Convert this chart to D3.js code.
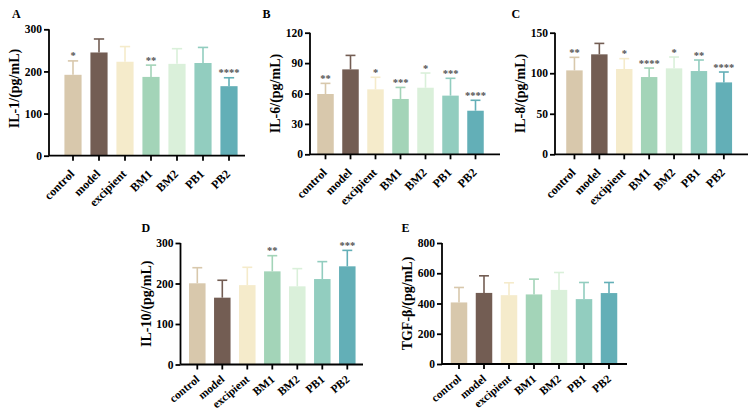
<!DOCTYPE html>
<html><head><meta charset="utf-8">
<script src="https://cdn.jsdelivr.net/npm/d3@7"></script>
<style>body{margin:0;background:#fff}svg{display:block}</style>
</head><body><svg id="c" width="750" height="419"></svg>
<script>
const categories = ["control","model","excipient","BM1","BM2","PB1","PB2"];
const barColors = ["#d8c8ac","#735d53","#f5ebcb","#a3d4b8","#daf0da","#92cdbf","#63afb7"];

const il1Mean = [192,245,223,187,218,220,165];
const il1Sd   = [33,32,36,28,36,37,20];
const il1Stars = ["*","","","**","","","****"];
const il1Ticks = [0,100,200,300];

const il6Mean = [59.5,83.8,64.1,54.6,65.7,57.9,43.0];
const il6Sd   = [10.5,13.8,11.9,11.4,14.5,17.1,10.3];
const il6Stars = ["**","","*","***","*","***","****"];
const il6Ticks = [0,30,60,90,120];

const il8Mean = [103.5,123.3,105.2,95.3,106,102.7,88.7];
const il8Sd   = [16.1,13.5,12.8,11.1,14,13.6,12.8];
const il8Stars = ["**","","*","****","*","**","****"];
const il8Ticks = [0,50,100,150];

const il10Mean = [200.5,165,196,230,193,211,242.4];
const il10Sd   = [38.5,43,44,38.7,43.7,43,39.4];
const il10Stars = ["","","","**","","","***"];
const il10Ticks = [0,100,200,300];

const tgfMean = [407,470,455,460,490,429,469];
const tgfSd   = [99,113,82,101,115,110,70];
const tgfStars = ["","","","","","",""];
const tgfTicks = [0,200,400,600,800];

const topRow = {angle:45, fs:12, dx:2, dy:19};
const botRow = {angle:40, fs:11.5, dx:3, dy:16};

const panels = [
  {letter:"A", label:"IL-1/(pg/mL)", mean:il1Mean, sd:il1Sd, stars:il1Stars, ticks:il1Ticks,
   ax:49, x0:60, step:26, xend:245, y0:155.7, ytop:29.3, lx:12, ly:17.5, lyOff:-4, row:topRow},
  {letter:"B", label:"IL-6/(pg/mL)", mean:il6Mean, sd:il6Sd, stars:il6Stars, ticks:il6Ticks,
   ax:310, x0:313, step:25, xend:500, y0:154.3, ytop:32.7, lx:262.5, ly:17.5, lyOff:0, row:topRow},
  {letter:"C", label:"IL-8/(pg/mL)", mean:il8Mean, sd:il8Sd, stars:il8Stars, ticks:il8Ticks,
   ax:555, x0:562, step:24.9, xend:748, y0:154.3, ytop:32.7, lx:511.5, ly:17.5, lyOff:0, row:topRow},
  {letter:"D", label:"IL-10/(pg/mL)", mean:il10Mean, sd:il10Sd, stars:il10Stars, ticks:il10Ticks,
   ax:180.5, x0:184.8, step:25, xend:363, y0:364.5, ytop:243, lx:141.5, ly:231.5, lyOff:0, row:botRow},
  {letter:"E", label:"TGF-β/(pg/mL)", mean:tgfMean, sd:tgfSd, stars:tgfStars, ticks:tgfTicks,
   ax:442, x0:446.5, step:25, xend:627, y0:364, ytop:243, lx:401.5, ly:231.5, lyOff:0, row:botRow}
];

const FONT = "'Liberation Serif','Times New Roman',serif";
const svg = d3.select("#c");
svg.append("rect").attr("width",750).attr("height",419).attr("fill","#fff");

panels.forEach(p => {
  const g = svg.append("g");
  const tmax = p.ticks[p.ticks.length-1];
  const y = d3.scaleLinear().domain([0,tmax]).range([p.y0,p.ytop]);
  const x = d3.scaleBand().domain(categories)
    .range([p.x0, p.x0 + p.step*categories.length]).paddingInner(0.34).paddingOuter(0.17);

  g.selectAll("rect.bar").data(categories).join("rect")
    .attr("x", d => x(d)).attr("width", x.bandwidth())
    .attr("y", (d,i) => y(p.mean[i])).attr("height", (d,i) => p.y0 - y(p.mean[i]))
    .attr("fill", (d,i) => barColors[i]);

  const cap = x.bandwidth()*0.6;
  categories.forEach((d,i) => {
    const cx = x(d) + x.bandwidth()/2;
    const yt = y(p.mean[i] + p.sd[i]);
    g.append("line").attr("x1",cx).attr("x2",cx).attr("y1",y(p.mean[i])).attr("y2",yt)
      .attr("stroke",barColors[i]).attr("stroke-width",1.6);
    g.append("line").attr("x1",cx-cap/2).attr("x2",cx+cap/2).attr("y1",yt).attr("y2",yt)
      .attr("stroke",barColors[i]).attr("stroke-width",1.6);
    if (p.stars[i]) {
      g.append("text").attr("x",cx).attr("y",yt-1.5).attr("text-anchor","middle")
        .attr("font-family",FONT).attr("font-size",10.5).attr("font-weight","bold")
        .attr("fill","#555").text(p.stars[i]);
    }
  });

  const yAxis = d3.axisLeft(y).tickValues(p.ticks).tickSize(5).tickSizeOuter(0).tickPadding(2);
  const ga = g.append("g").attr("transform",`translate(${p.ax},0)`).call(yAxis);
  ga.select(".domain").attr("stroke","#000").attr("stroke-width",1.8)
    .attr("d", `M0,${p.y0}V${p.ytop}`);
  ga.selectAll(".tick line").attr("stroke","#000").attr("stroke-width",1.8);
  ga.selectAll(".tick text").attr("font-family",FONT).attr("font-size",11.5)
    .attr("font-weight","bold").attr("fill","#000");

  const xAxis = d3.axisBottom(x).tickSize(5).tickSizeOuter(0).tickFormat("");
  const gx = g.append("g").attr("transform",`translate(0,${p.y0})`).call(xAxis);
  gx.select(".domain").attr("stroke","#000").attr("stroke-width",1.8)
    .attr("d", `M${p.ax},0H${p.xend}`);
  gx.selectAll(".tick line").attr("stroke","#000").attr("stroke-width",1.8);

  const r = p.row;
  g.selectAll("text.xl").data(categories).join("text")
    .attr("transform", d => `translate(${x(d)+x.bandwidth()/2+r.dx},${p.y0+r.dy}) rotate(${-r.angle})`)
    .attr("text-anchor","end")
    .attr("font-family",FONT).attr("font-size",r.fs).attr("font-weight","bold").attr("fill","#000")
    .text(d => d);

  g.append("text")
    .attr("transform",`translate(${p.ax-30},${(p.y0+p.ytop)/2 + p.lyOff}) rotate(-90)`)
    .attr("text-anchor","middle")
    .attr("font-family",FONT).attr("font-size",14).attr("font-weight","bold").attr("fill","#000")
    .text(p.label);

  g.append("text").attr("x",p.lx).attr("y",p.ly)
    .attr("font-family",FONT).attr("font-size",12).attr("font-weight","bold").attr("fill","#000")
    .text(p.letter);
});
</script></body></html>
